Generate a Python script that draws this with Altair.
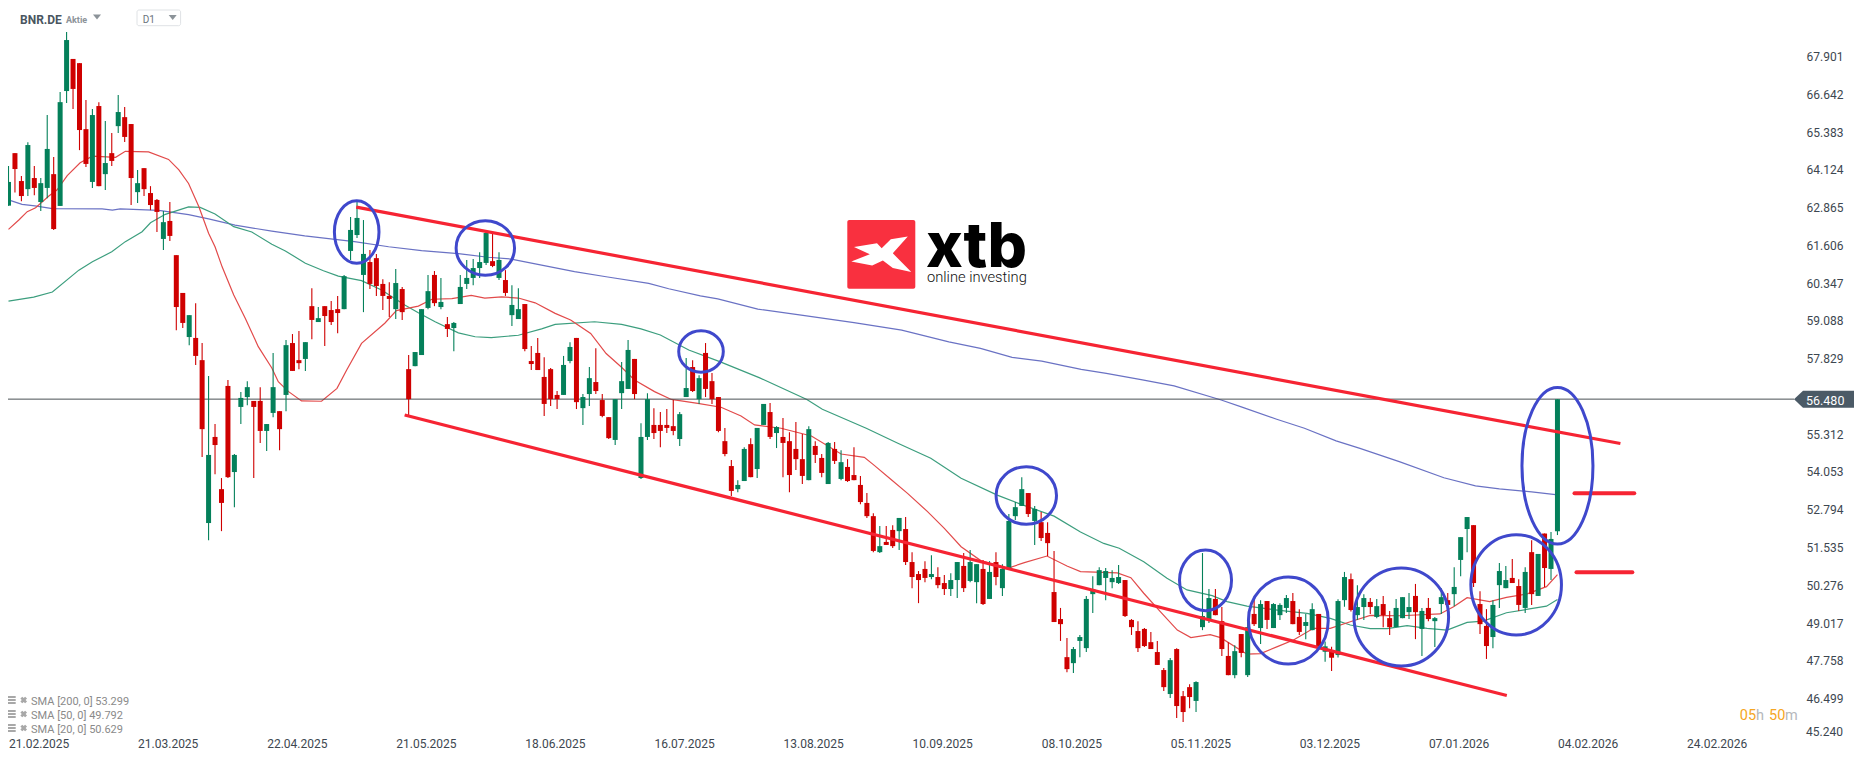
import altair as alt
import pandas as pd

# daily candles, bar 0 = 21.02.2025, bar 240 = 04.02.2026
highs = [
    64.25, 64.68, 63.92, 65.04, 64.25, 63.85, 65.95, 64.55, 66.72, 68.72,
    67.82, 67.68, 66.45, 66.15, 66.38, 65.75, 65.35, 66.62, 66.22, 65.65,
    64.12, 64.18, 63.58, 63.15, 62.75, 63.05, 61.28, 60.02, 59.28, 59.68,
    58.35, 57.25, 55.65, 53.85, 57.12, 54.65, 56.72, 57.08, 56.42, 56.88,
    55.65, 58.02, 56.08, 58.45, 58.65, 58.75, 58.38, 60.18, 59.55, 59.58,
    59.75, 59.92, 60.62, 62.55, 63.05, 62.45, 61.45, 61.32, 60.48, 60.38,
    60.82, 60.22, 57.95, 58.05, 59.48, 60.62, 60.75, 60.52, 59.22, 59.05,
    60.62, 61.12, 61.15, 61.38, 62.12, 62.02, 61.38, 60.78, 60.28, 60.18,
    59.65, 58.25, 58.52, 57.88, 57.52, 56.75, 57.92, 58.38, 58.52, 56.65,
    57.55, 58.18, 56.65, 55.88, 56.48, 57.72, 58.45, 57.82, 55.68, 56.68,
    56.18, 56.05, 56.15, 56.45, 56.05, 57.85, 57.78, 57.28, 58.35, 57.35,
    56.55, 55.52, 54.45, 53.78, 54.88, 55.18, 55.52, 56.32, 56.35, 55.58,
    55.85, 55.38, 55.72, 55.32, 55.58, 55.08, 54.65, 55.05, 55.05, 54.78,
    54.48, 54.88, 53.92, 53.35, 52.68, 52.25, 52.25, 52.28, 52.52, 52.55,
    51.38, 50.75, 51.08, 51.28, 50.88, 50.62, 50.68, 51.05, 51.35, 51.45,
    50.98, 51.12, 51.08, 51.38, 50.98, 52.65, 53.05, 53.88, 53.35, 52.92,
    52.72, 52.38, 51.42, 49.52, 48.52, 48.22, 48.62, 49.92, 50.58, 50.88,
    50.85, 50.78, 50.95, 50.45, 49.15, 49.08, 48.85, 48.72, 48.42, 47.52,
    47.85, 48.18, 46.75, 46.98, 47.08, 51.35, 50.15, 50.15, 49.55, 48.38,
    48.28, 48.65, 49.05, 49.82, 49.78, 49.75, 49.68, 49.68, 49.95, 50.02,
    49.48, 49.32, 49.68, 49.32, 48.40, 48.23, 49.81, 50.72, 50.67, 50.28,
    49.98, 49.85, 49.82, 49.92, 49.42, 49.82, 49.88, 50.02, 50.32, 49.52,
    49.85, 49.22, 50.18, 50.02, 50.88, 51.88, 52.55, 52.28, 50.08, 49.48,
    49.78, 51.02, 50.92, 51.15, 50.48, 50.88, 51.78, 51.32, 52.00, 52.05,
    56.48,
]
lows = [
    62.93, 63.37, 63.08, 63.25, 63.28, 62.75, 63.18, 62.12, 62.92, 66.35,
    66.15, 64.78, 64.22, 63.52, 63.58, 63.45, 64.25, 65.35, 65.05, 62.95,
    63.02, 63.25, 62.78, 62.05, 61.45, 61.75, 58.78, 58.85, 58.28, 57.62,
    54.55, 51.78, 53.98, 52.08, 53.85, 52.88, 55.65, 56.28, 53.85, 55.02,
    54.75, 55.88, 54.78, 56.08, 57.42, 57.48, 57.42, 58.48, 59.05, 58.25,
    58.95, 58.68, 59.48, 61.12, 61.85, 59.38, 60.15, 59.92, 59.45, 59.22,
    59.15, 59.12, 55.95, 57.58, 57.95, 59.48, 59.58, 59.48, 58.55, 58.08,
    59.65, 60.15, 60.28, 60.52, 60.95, 60.88, 60.45, 59.92, 58.92, 59.15,
    58.08, 57.45, 57.45, 55.92, 56.25, 56.15, 56.62, 57.68, 56.15, 55.62,
    56.25, 56.65, 55.88, 55.15, 54.95, 56.15, 56.82, 56.48, 53.82, 55.12,
    55.15, 54.88, 55.35, 55.28, 54.92, 56.55, 56.72, 56.32, 56.55, 56.32,
    55.38, 54.58, 53.25, 53.38, 53.75, 53.88, 53.85, 55.62, 55.15, 54.85,
    53.88, 53.38, 54.12, 53.65, 53.78, 54.35, 53.88, 53.65, 54.32, 53.78,
    53.72, 53.78, 52.98, 52.52, 51.38, 51.35, 51.62, 51.52, 51.45, 50.95,
    50.18, 49.68, 50.38, 50.48, 50.18, 49.95, 49.92, 49.85, 50.05, 50.38,
    49.68, 49.62, 49.82, 50.28, 49.92, 50.85, 52.45, 52.92, 52.55, 51.62,
    51.75, 51.25, 49.05, 48.42, 47.38, 47.35, 47.88, 48.05, 49.35, 50.28,
    49.78, 50.18, 50.32, 49.22, 48.62, 48.05, 48.22, 48.15, 47.62, 46.75,
    46.52, 45.85, 45.72, 46.18, 46.05, 48.78, 49.02, 49.28, 47.92, 47.28,
    47.18, 47.88, 47.22, 48.92, 48.32, 48.82, 48.85, 49.12, 49.35, 48.98,
    48.62, 48.48, 48.78, 48.12, 47.73, 47.42, 47.87, 49.56, 49.40, 49.12,
    49.12, 49.32, 49.18, 48.88, 48.62, 48.88, 49.18, 49.15, 48.48, 47.92,
    49.08, 48.22, 49.32, 49.45, 49.58, 50.58, 51.38, 50.22, 48.65, 47.82,
    48.18, 49.52, 50.18, 50.35, 49.42, 49.35, 49.62, 49.92, 50.22, 50.45,
    51.95,
]
opens = [
    62.93, 64.68, 63.75, 63.48, 63.85, 63.05, 63.52, 63.98, 62.92, 66.75,
    67.82, 67.68, 65.48, 63.72, 66.25, 63.98, 64.68, 65.58, 65.88, 65.65,
    63.38, 64.18, 63.35, 63.12, 61.82, 62.42, 61.28, 60.02, 58.55, 58.52,
    57.78, 52.35, 55.22, 53.48, 56.92, 54.05, 56.22, 56.55, 56.42, 56.42,
    55.42, 56.02, 56.08, 56.62, 58.35, 57.78, 57.82, 59.58, 59.05, 59.58,
    59.45, 59.48, 59.48, 61.42, 61.95, 60.62, 61.05, 61.18, 60.32, 59.92,
    59.48, 60.15, 57.48, 57.58, 57.95, 59.52, 60.62, 59.55, 58.98, 58.85,
    59.65, 60.32, 60.52, 60.85, 61.02, 61.08, 60.52, 60.45, 59.28, 59.15,
    59.65, 57.75, 58.02, 57.22, 57.48, 56.62, 56.62, 57.75, 58.52, 56.18,
    56.65, 57.05, 56.45, 55.88, 55.12, 56.68, 56.82, 57.82, 53.85, 55.22,
    55.62, 55.62, 55.62, 55.58, 55.15, 56.55, 57.55, 56.48, 58.02, 57.08,
    56.55, 55.08, 54.25, 53.48, 53.75, 54.98, 54.15, 55.62, 56.05, 55.35,
    55.22, 55.08, 54.82, 54.48, 53.78, 54.92, 54.52, 53.65, 54.82, 53.82,
    54.22, 53.95, 53.62, 53.02, 52.58, 51.38, 51.72, 52.12, 52.08, 52.15,
    51.05, 50.65, 50.82, 50.55, 50.55, 50.35, 50.15, 50.45, 50.92, 50.42,
    50.38, 50.82, 49.82, 51.05, 50.18, 50.85, 52.58, 52.92, 53.35, 52.42,
    52.38, 52.02, 50.05, 49.15, 47.88, 47.68, 48.42, 48.18, 49.98, 50.28,
    50.52, 50.38, 50.35, 50.45, 49.12, 48.75, 48.82, 48.38, 48.05, 47.45,
    46.65, 48.15, 46.58, 46.88, 46.42, 48.88, 49.12, 49.82, 49.08, 47.92,
    47.28, 48.65, 47.28, 49.32, 48.85, 49.75, 48.85, 49.28, 49.52, 49.75,
    49.22, 48.92, 48.78, 49.32, 48.06, 48.06, 47.95, 49.78, 50.48, 49.28,
    49.55, 49.72, 49.22, 49.65, 49.18, 48.88, 49.18, 49.38, 49.92, 48.82,
    49.52, 49.08, 49.65, 49.78, 49.98, 51.12, 52.15, 52.28, 49.65, 48.92,
    48.55, 50.28, 50.18, 50.52, 50.25, 49.52, 51.38, 49.92, 52.00, 50.82,
    52.08,
]
closes = [
    63.72, 64.15, 63.25, 64.95, 63.52, 63.68, 64.82, 62.15, 66.38, 68.45,
    66.82, 65.45, 64.32, 65.95, 63.58, 64.35, 64.42, 66.05, 65.22, 63.85,
    63.68, 63.48, 62.95, 62.72, 62.38, 61.92, 59.55, 59.02, 59.28, 57.92,
    55.48, 54.62, 54.95, 53.02, 53.88, 54.62, 56.52, 56.88, 56.22, 55.42,
    55.65, 56.88, 55.48, 58.28, 57.42, 57.68, 58.38, 59.12, 59.18, 59.25,
    59.05, 59.35, 60.58, 62.12, 62.52, 61.32, 60.32, 60.25, 59.92, 59.82,
    60.35, 59.38, 56.48, 58.05, 59.48, 60.08, 59.68, 59.72, 58.82, 59.02,
    60.22, 60.52, 60.85, 61.05, 62.02, 60.92, 61.12, 60.02, 59.62, 59.48,
    58.15, 57.65, 57.45, 56.32, 56.48, 56.48, 57.62, 58.22, 56.38, 56.55,
    57.18, 56.75, 55.92, 55.18, 56.48, 57.08, 58.12, 56.65, 55.22, 56.48,
    55.35, 55.42, 55.52, 55.42, 55.98, 56.85, 56.75, 57.18, 56.82, 56.48,
    55.42, 54.65, 53.42, 53.62, 54.82, 53.88, 55.52, 56.32, 55.22, 55.55,
    55.02, 53.95, 54.48, 53.92, 55.48, 54.62, 54.02, 55.02, 54.42, 54.38,
    53.75, 53.78, 53.05, 52.58, 51.42, 51.58, 51.62, 51.58, 52.52, 51.05,
    50.55, 50.45, 50.52, 50.65, 50.28, 50.15, 50.45, 51.05, 50.18, 51.05,
    50.98, 49.65, 50.72, 50.55, 50.82, 52.42, 52.88, 53.48, 52.65, 52.82,
    51.85, 51.68, 49.05, 48.98, 47.48, 48.15, 48.55, 49.82, 50.15, 50.78,
    50.75, 50.52, 50.55, 49.25, 48.88, 48.18, 48.25, 48.15, 47.62, 46.88,
    47.78, 46.25, 46.05, 46.55, 47.05, 49.25, 49.85, 49.28, 48.15, 47.28,
    48.08, 48.02, 48.88, 48.98, 49.65, 49.12, 49.65, 49.62, 49.85, 48.98,
    48.72, 49.05, 49.48, 48.18, 48.24, 47.86, 49.75, 50.55, 49.45, 49.55,
    49.85, 49.55, 49.58, 49.28, 48.88, 49.52, 49.88, 49.55, 49.38, 49.42,
    49.15, 49.18, 49.88, 49.62, 50.22, 51.88, 52.55, 50.35, 48.98, 48.25,
    49.62, 50.75, 50.45, 50.35, 49.62, 50.72, 49.98, 51.32, 50.85, 51.82,
    56.48,
]

# moving averages, read at bends of each line (bar, price)
sma200_bars = [0, 2.1, 4.1, 6.8, 14.5, 16.1, 17.3, 23.3, 27.9, 31, 35.1, 40.8, 45.9, 53.6, 58.9, 64, 69.7,
               74.3, 77.9, 82.6, 87.7, 92.6, 99.2, 102.3, 107.2, 109.9, 116.1, 123.1, 131, 138.4, 145.7,
               150.6, 155.5, 160.1, 166.2, 170.1, 175.7, 180.6, 187.9, 190.9, 196.5, 200.8, 205.7, 209.4,
               215.6, 222.4, 227.3, 231, 236, 239.7]
sma200_vals = [63.12, 62.97, 62.92, 62.83, 62.82, 62.78, 62.82, 62.77, 62.63, 62.49, 62.28, 62.08, 61.92, 61.73,
               61.56, 61.43, 61.33, 61.21, 61.15, 60.95, 60.73, 60.56, 60.34, 60.16, 59.92, 59.82, 59.48, 59.27,
               59.03, 58.78, 58.39, 58.17, 57.87, 57.75, 57.47, 57.34, 57.12, 56.92, 56.45, 56.23, 55.81, 55.51,
               55.09, 54.84, 54.39, 53.86, 53.59, 53.49, 53.39, 53.30]
sma50_bars = [0, 3.9, 6.8, 10.9, 13, 16, 18.1, 20.7, 22, 24.3, 27.9, 29.7, 32, 34.9, 37.7, 40.8, 42.9, 46, 48.8,
              51.1, 54.7, 57.8, 61.4, 63.5, 66.1, 69.7, 72.3, 74.8, 79, 82.6, 84.7, 90.8, 95, 98, 101, 105.4,
              110.2, 116.4, 123.7, 126.1, 132.9, 137.8, 142.9, 147.6, 153.2, 156.8, 162, 166.1, 169.7, 172.1,
              175.9, 179.5, 182.6, 186.5, 188.8, 191.9, 196.6, 201.2, 204.8, 207.9, 211, 213.6, 216.7, 219.8,
              222.9, 226, 228.5, 232.1, 235.2, 238.3, 240]
sma50_vals = [59.75, 59.88, 60.05, 60.78, 61.06, 61.39, 61.73, 62.06, 62.36, 62.64, 62.89, 62.87, 62.65, 62.23,
              62.05, 61.64, 61.42, 61.01, 60.76, 60.58, 60.43, 60.12, 59.62, 59.36, 59.06, 58.69, 58.56, 58.53,
              58.61, 58.82, 58.97, 59.06, 58.97, 58.82, 58.62, 58.12, 57.73, 57.19, 56.47, 56.14, 55.51, 55.01,
              54.51, 53.84, 53.28, 52.98, 52.58, 52.05, 51.67, 51.51, 51.06, 50.51, 50.12, 49.93, 49.73, 49.58,
              49.45, 49.34, 49.17, 48.95, 48.83, 48.83, 48.93, 48.84, 48.78, 49.04, 49.08, 49.36, 49.47, 49.58,
              49.80]
sma20_bars = [0, 1.6, 2.9, 4.2, 6.3, 7.5, 9.1, 11.1, 13, 16.6, 18.1, 21.7, 24.8, 26.4, 27.9, 29.5, 31, 32, 33.1,
              34.9, 36.7, 38.7, 40.8, 41.8, 43.4, 45.4, 48.5, 50.9, 52.4, 54.7, 58.3, 60.1, 63.5, 65.6, 68.7,
              71.7, 73.8, 76.4, 79, 81.6, 84.7, 87.1, 90.2, 92.6, 94.9, 97, 100.1, 102.7, 106.8, 110.4, 113.5,
              115.6, 119.7, 124.4, 129, 132.6, 134.1, 136.7, 139.3, 142.4, 145, 147.6, 150.7, 154.8, 157.4,
              160.9, 164, 166.1, 171.8, 173.9, 175.9, 178.5, 181.1, 183.2, 186.2, 187.8, 191.9, 194, 196.6,
              199.1, 202.2, 204.8, 207.9, 211, 215.6, 221.8, 223.9, 226, 229.5, 232.1, 235.2, 238.3, 240]
sma20_vals = [62.14, 62.45, 62.73, 62.86, 63.26, 63.45, 63.93, 64.36, 64.58, 64.54, 64.74, 64.72, 64.47, 64.12,
              63.67, 62.89, 62.01, 61.56, 60.89, 59.95, 59.17, 58.23, 57.52, 57.06, 56.73, 56.42, 56.41, 56.84,
              57.45, 58.34, 59.01, 59.43, 59.58, 59.81, 59.83, 59.94, 59.85, 59.89, 59.85, 59.69, 59.34, 59.12,
              58.67, 58.00, 57.56, 57.12, 56.73, 56.47, 56.34, 56.21, 55.92, 55.62, 55.51, 55.25, 54.65, 54.54,
              54.28, 53.81, 53.34, 52.73, 52.17, 51.56, 51.09, 50.84, 51.03, 51.25, 50.92, 50.73, 50.69, 50.53,
              50.01, 49.39, 48.78, 48.53, 48.63, 48.53, 47.98, 48.00, 48.23, 48.45, 48.84, 48.84, 49.06, 49.27,
              49.26, 49.32, 49.56, 49.86, 49.73, 49.87, 49.98, 50.23, 50.63]

# hand drawn red lines: (bar, price) pairs
upper_channel = [(53.88, 62.88), (249.75, 55.00)]
lower_channel = [(61.38, 55.95), (232.15, 46.60)]
level_top = [(242.64, 53.34), (251.9, 53.34)]
level_bottom = [(242.95, 50.71), (251.6, 50.71)]

# hand drawn blue ellipses: bar, price, half width px, half height px
ellipses = [
    (53.95, 62.05, 22.3, 31.3),
    (73.88, 61.52, 29.2, 27.3),
    (107.3, 58.07, 22.3, 20.7),
    (157.7, 53.27, 30.2, 28.8),
    (185.47, 50.44, 26.0, 30.3),
    (198.3, 49.10, 39.9, 43.5),
    (215.8, 49.22, 47.3, 49.0),
    (233.6, 50.29, 45.3, 50.2),
    (240.0, 54.26, 35.5, 78.3),
]

last_price = 56.48
price_ticks = [67.901, 66.642, 65.383, 64.124, 62.865, 61.606, 60.347, 59.088, 57.829,
               55.312, 54.053, 52.794, 51.535, 50.276, 49.017, 47.758, 46.499]
date_ticks = list(range(0, 261, 20))
date_labels = ["21.02.2025", "21.03.2025", "22.04.2025", "21.05.2025", "18.06.2025", "16.07.2025", "13.08.2025",
               "10.09.2025", "08.10.2025", "05.11.2025", "03.12.2025", "07.01.2026", "04.02.2026", "24.02.2026"]
legend_labels = ["SMA [200, 0] 53.299", "SMA [50, 0] 49.792", "SMA [20, 0] 50.629"]

RED = "#cf0000"
GREEN = "#04805a"
PEN_RED = "#f62433"
PEN_BLUE = "#3f48cc"
FONT = "Roboto"

# padding=0: bars would otherwise pad the continuous x scale
x_scale = alt.Scale(domain=[-0.0775, 277.27], nice=False, zero=False, padding=0)
y_scale = alt.Scale(domain=[45.318, 69.518], nice=False, zero=False)
one_row = alt.Data(values=[{"a": 1}])

candles = pd.DataFrame({"bar": range(len(opens)), "open": opens, "close": closes, "high": highs, "low": lows})
candles["dir"] = ["up" if c >= o else "down" for o, c in zip(opens, closes)]
dir_color = alt.Color("dir:N", scale=alt.Scale(domain=["up", "down"], range=[GREEN, RED]), legend=None)

# layers merge their axes, and an axis=None in any layer switches it off, so all carry the same one
date_axis = alt.Axis(
    values=date_ticks, labelExpr="%s[round(datum.value / 20)]" % str(date_labels),
    grid=False, domain=False, ticks=False, labelAlign="left", labelPadding=4,
    labelFont=FONT, labelFontSize=12, labelColor="#3d4750", labelOverlap=False, labelBound=False,
)
price_axis = alt.Axis(
    orient="right", values=price_ticks, format=".3f", grid=False, domain=False, ticks=False,
    labelPadding=8, labelFont=FONT, labelFontSize=12, labelColor="#3d4750", labelOverlap=False,
)


def x_enc(field="bar"):
    return alt.X(f"{field}:Q", scale=x_scale, axis=date_axis, title=None)


def y_enc(field="price"):
    return alt.Y(f"{field}:Q", scale=y_scale, axis=price_axis, title=None)


def line(bars, vals, color, width):
    df = pd.DataFrame({"bar": bars, "price": vals})
    return alt.Chart(df).mark_line(color=color, strokeWidth=width).encode(x=x_enc(), y=y_enc())


def pen(points, width, cap="butt"):
    df = pd.DataFrame(points, columns=["bar", "price"])
    return alt.Chart(df).mark_line(color=PEN_RED, strokeWidth=width, strokeCap=cap).encode(x=x_enc(), y=y_enc())


# picture coordinates are page coordinates, the chart sits 8px in
def text(s, x, y, size=12, color="#3d4750", weight="normal", font=FONT, baseline="middle"):
    return alt.Chart(one_row).mark_text(
        text=s, align="left", baseline=baseline, fontSize=size, font=font, color=color, fontWeight=weight
    ).encode(x=alt.value(x - 8), y=alt.value(y - 8))


# size 4 makes one path unit one pixel
def stamp(path, x, y, color):
    return alt.Chart(one_row).mark_point(
        shape=path, size=4, filled=True, fill=color, strokeWidth=0, opacity=1
    ).encode(x=alt.value(x - 8), y=alt.value(y - 8))


layers = []
layers.append(line(sma200_bars, sma200_vals, "#6a72c4", 1.2))
layers.append(line(sma50_bars, sma50_vals, "#3c9e7e", 1.2))
layers.append(line(sma20_bars, sma20_vals, "#e24a4a", 1.2))

# current price line
layers.append(
    alt.Chart(pd.DataFrame({"price": [last_price]})).mark_rule(color="#4a5055", strokeWidth=1).encode(
        x=alt.value(0), x2=alt.value(1786), y=y_enc()
    )
)

wicks = alt.Chart(candles).mark_rule(strokeWidth=1.1).encode(
    x=x_enc(), y=y_enc("high"), y2="low:Q", color=dir_color
)
bodies = alt.Chart(candles).mark_bar(size=5, orient="vertical").encode(
    x=x_enc(), y=y_enc("open"), y2="close:Q", color=dir_color
)
layers += [wicks, bodies]

layers.append(pen(upper_channel, 3.2))
layers.append(pen(lower_channel, 3.2))
layers.append(pen(level_top, 4, "round"))
layers.append(pen(level_bottom, 4, "round"))

for bar, price, rx, ry in ellipses:
    path = f"M{-rx},0 A{rx},{ry} 0 1,1 {rx},0 A{rx},{ry} 0 1,1 {-rx},0 Z"
    layers.append(
        alt.Chart(pd.DataFrame({"bar": [bar], "price": [price]})).mark_point(
            shape=path, size=4, filled=False, stroke=PEN_BLUE, strokeWidth=3, opacity=1
        ).encode(x=x_enc(), y=y_enc())
    )

# logo
layers.append(
    alt.Chart(one_row).mark_rect(color="#f9303f", cornerRadius=2).encode(
        x=alt.value(847.3 - 8), x2=alt.value(915.3 - 8), y=alt.value(220 - 8), y2=alt.value(288.7 - 8)
    )
)
layers.append(stamp(
    "M-27.3,-7.3 L-4.3,-11 L0.4,-6 L9.5,-15 L26.5,-17.7 L11.5,-1 L30,17.7 L11.5,13.7 "
    "L1.6,6.3 L-9.1,11.3 L-30,7.3 L-11.5,0 Z",
    881.3, 254.3, "white",
))
layers.append(text("xtb", 926, 266.7, size=62, color="#000000", weight=800, font="Inter", baseline="alphabetic"))
layers.append(text("online investing", 927, 282, size=14.7, color="#111111", weight=300, baseline="alphabetic"))

# header
layers.append(text("BNR.DE", 20, 19.5, size=12, color="#4a5560", weight=700))
layers.append(text("Aktie", 66, 20, size=9, color="#8c9399", weight=700))
layers.append(stamp("M-4,-2.5 H4 L0,2.5 Z", 97, 17, "#8c9399"))
layers.append(
    alt.Chart(one_row).mark_rect(fill="white", stroke="#dfe2e5", cornerRadius=2, strokeWidth=1).encode(
        x=alt.value(137 - 8), x2=alt.value(180.6 - 8), y=alt.value(10 - 8), y2=alt.value(25.7 - 8)
    )
)
layers.append(text("D1", 142.7, 20, size=10, color="#6b747c"))
layers.append(stamp("M-4,-2.5 H4 L0,2.5 Z", 172.7, 17.5, "#8c9399"))

# price tag and the squeezed bottom label
layers.append(stamp("M0,0 L9,-8.5 H60 V8.5 H9 Z", 1794, 399.3, "#4b5a66"))
layers.append(text("56.480", 1806, 400.7, size=12.5, color="white"))
layers.append(text("45.240", 1806, 731.7))

# countdown
layers.append(text("05", 1739.8, 716, size=14.5, color="#f5a623"))
layers.append(text("h", 1756, 716, size=14.5, color="#b5b8bb"))
layers.append(text("50", 1769, 716, size=14.5, color="#f5a623"))
layers.append(text("m", 1785, 716, size=14.5, color="#b5b8bb"))

# indicator legend
for label, y in zip(legend_labels, [701.7, 715.7, 729.7]):
    layers.append(stamp("M-4.7,-4 H4.7 V-2 H-4.7 Z M-4.7,-1 H4.7 V1 H-4.7 Z M-4.7,2 H4.7 V4 H-4.7 Z", 11, y - 1.7, "#a8a8a8"))
    layers.append(
        alt.Chart(one_row).mark_point(shape="cross", size=45, filled=True, fill="#a8a8a8", strokeWidth=0, angle=45, opacity=1)
        .encode(x=alt.value(23.7 - 8), y=alt.value(y - 1.7 - 8))
    )
    layers.append(text(label, 31, y, size=11, color="#8a8a8a"))

chart = alt.layer(*layers).properties(
    width=1790,
    height=726,
    autosize=alt.AutoSizeParams(type="none"),
    padding={"left": 0, "top": 0, "right": 60, "bottom": 16},
    background="white",
).configure_view(strokeWidth=0)

chart.save("out.html", embed_options={"renderer": "svg", "actions": False})
